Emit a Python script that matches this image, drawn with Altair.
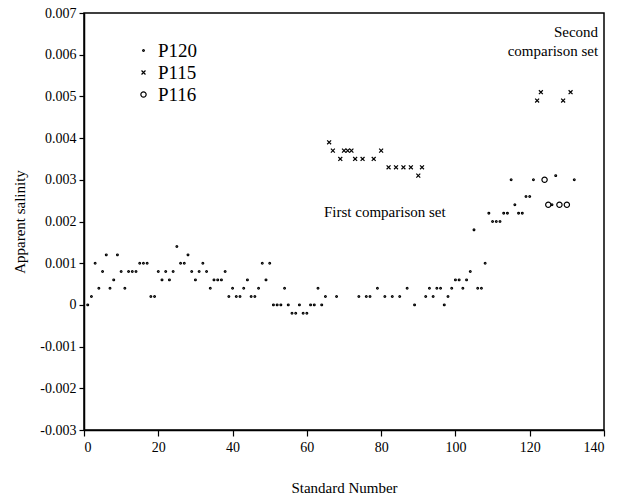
import altair as alt
import pandas as pd

# ---- data ----
p120_x = [1, 2, 3, 4, 5, 6, 7, 8, 9, 10,
          11, 12, 13, 14, 15, 16, 17, 18, 19, 20,
          21, 22, 23, 24, 25, 26, 27, 28, 29, 30,
          31, 32, 33, 34, 35, 36, 37, 38, 39, 40,
          41, 42, 43, 44, 45, 46, 47, 48, 49, 50,
          51, 52, 53, 54, 55, 56, 57, 58, 59, 60,
          61, 62, 63, 64, 65, 68, 74, 76, 77, 79,
          81, 83, 85, 87, 89, 92, 93, 94, 95, 96,
          97, 98, 99, 100, 101, 102, 103, 104, 105, 106,
          107, 108, 109, 110, 111, 112, 113, 114, 115, 116,
          117, 118, 119, 120, 121, 126, 127, 132]
p120_y = [0.0, 0.0002, 0.001, 0.0004, 0.0008, 0.0012, 0.0004, 0.0006, 0.0012, 0.0008,
          0.0004, 0.0008, 0.0008, 0.0008, 0.001, 0.001, 0.001, 0.0002, 0.0002, 0.0008,
          0.0006, 0.0008, 0.0006, 0.0008, 0.0014, 0.001, 0.001, 0.0012, 0.0008, 0.0006,
          0.0008, 0.001, 0.0008, 0.0004, 0.0006, 0.0006, 0.0006, 0.0008, 0.0002, 0.0004,
          0.0002, 0.0002, 0.0004, 0.0006, 0.0002, 0.0002, 0.0004, 0.001, 0.0006, 0.001,
          0.0, 0.0, 0.0, 0.0004, 0.0, -0.0002, -0.0002, 0.0, -0.0002, -0.0002,
          0.0, 0.0, 0.0004, 0.0, 0.0002, 0.0002, 0.0002, 0.0002, 0.0002, 0.0004,
          0.0002, 0.0002, 0.0002, 0.0004, 0.0, 0.0002, 0.0004, 0.0002, 0.0004, 0.0004,
          0.0, 0.0002, 0.0004, 0.0006, 0.0006, 0.0004, 0.0006, 0.0008, 0.0018, 0.0004,
          0.0004, 0.001, 0.0022, 0.002, 0.002, 0.002, 0.0022, 0.0022, 0.003, 0.0024,
          0.0022, 0.0022, 0.0026, 0.0026, 0.003, 0.0024, 0.0031, 0.003]

p115_x = [66, 67, 69, 70, 71, 72, 73, 75, 78, 80, 82, 84, 86, 88, 90, 91, 122, 123, 129, 131]
p115_y = [0.0039, 0.0037, 0.0035, 0.0037, 0.0037, 0.0037, 0.0035, 0.0035, 0.0035, 0.0037,
          0.0033, 0.0033, 0.0033, 0.0033, 0.0031, 0.0033, 0.0049, 0.0051, 0.0049, 0.0051]

p116_x = [124, 125, 128, 130]
p116_y = [0.003, 0.0024, 0.0024, 0.0024]

series_names = ["P120", "P115", "P116"]
x_ticks = [0, 10, 20, 30, 40, 50, 60, 70, 80, 90, 100, 110, 120, 130, 140]
y_ticks = [-0.003, -0.002, -0.001, 0.0, 0.001, 0.002, 0.003, 0.004, 0.005, 0.006, 0.007]

note_text = ["First comparison set", "Second", "comparison set"]
note_x = [81, 138.4, 138.4]
note_y = [0.00222, 0.00654, 0.00608]
note_align = ["center", "right", "right"]

# ---- build table ----
rows = []
for name, xs, ys in [("P120", p120_x, p120_y), ("P115", p115_x, p115_y), ("P116", p116_x, p116_y)]:
    for a, b in zip(xs, ys):
        rows.append({"n": a, "s": b, "series": name})
df = pd.DataFrame(rows)
notes = pd.DataFrame({"t": note_text, "n": note_x, "s": note_y, "al": note_align})

FONT = "Liberation Serif"
XPATH = "M-1,-1L1,1M-1,1L1,-1"

xscale = alt.Scale(domain=[0, 140], nice=False, zero=False)
yscale = alt.Scale(domain=[-0.003, 0.007], nice=False, zero=False)

def leg():
    return alt.Legend(title=None, orient="none", legendX=50, legendY=28,
                      labelFontSize=19, labelFont=FONT, labelColor="black",
                      labelOffset=5, rowPadding=2, symbolStrokeColor="black",
                      symbolStrokeWidth=1.2, symbolFillColor="transparent")

points = alt.Chart(df).mark_point(filled=False, stroke="black", strokeWidth=1.2, opacity=1).encode(
    x=alt.X("n:Q", scale=xscale,
            axis=alt.Axis(values=x_ticks, title="Standard Number", format="d",
                          tickSize=6, labelPadding=4, titlePadding=26)),
    y=alt.Y("s:Q", scale=yscale,
            axis=alt.Axis(values=y_ticks, title="Apparent salinity", tickSize=5,
                          labelPadding=3, titlePadding=12,
                          labelExpr="abs(datum.value) < 1e-9 ? '0' : (datum.value < 0 ? '-' + format(-datum.value, '.3f') : format(datum.value, '.3f'))")),
    shape=alt.Shape("series:N", scale=alt.Scale(domain=series_names, range=["circle", XPATH, "circle"]), legend=leg()),
    size=alt.Size("series:N", scale=alt.Scale(domain=series_names, range=[3, 28, 26]), legend=leg()),
)

def note_layer(align):
    return alt.Chart(notes).transform_filter(alt.datum.al == align).mark_text(
        font=FONT, fontSize=15, color="black", align=align, baseline="middle"
    ).encode(x=alt.X("n:Q", scale=xscale), y=alt.Y("s:Q", scale=yscale), text="t:N")

chart = alt.layer(points, note_layer("center"), note_layer("right")).properties(
    width=520, height=417,
    autosize=alt.AutoSizeParams(type="none"),
    padding={"left": 84, "top": 13, "right": 20, "bottom": 65},
    background="white",
).configure_view(stroke="black", strokeWidth=1.5).configure_axis(
    grid=False, domainColor="black", domainWidth=1.5, tickColor="black", tickWidth=1.2,
    labelFont=FONT, labelFontSize=14, labelColor="black",
    titleFont=FONT, titleFontSize=15, titleFontWeight="normal", titleColor="black",
)

chart.save("out.html", embed_options={"renderer": "svg", "actions": False})
